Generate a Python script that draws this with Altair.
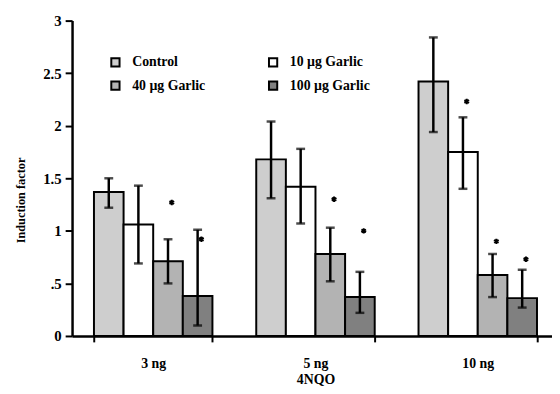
import altair as alt
import pandas as pd

doses = ["3 ng", "5 ng", "10 ng"]
treatments = ["Control", "10 µg Garlic", "40 µg Garlic", "100 µg Garlic"]
colors = ["#cecece", "#ffffff", "#b3b3b3", "#808080"]
# legend is filled column by column: Control, 40 | 10, 100
legend_order = ["Control", "40 µg Garlic", "10 µg Garlic", "100 µg Garlic"]
legend_colors = ["#cecece", "#b3b3b3", "#ffffff", "#808080"]
legend_labels = ["Control", "\u00a040 µg Garlic", "\u00a010 µg Garlic", "100 µg Garlic"]

# induction factor per dose, per treatment (Control, 10, 40, 100 µg)
values = {
    "3 ng": [1.37, 1.06, 0.71, 0.38],
    "5 ng": [1.68, 1.42, 0.78, 0.37],
    "10 ng": [2.42, 1.75, 0.58, 0.36],
}
err_low = {
    "3 ng": [1.22, 0.69, 0.50, 0.10],
    "5 ng": [1.31, 1.07, 0.52, 0.22],
    "10 ng": [1.94, 1.40, 0.37, 0.27],
}
err_high = {
    "3 ng": [1.50, 1.43, 0.92, 1.01],
    "5 ng": [2.04, 1.78, 1.03, 0.61],
    "10 ng": [2.84, 2.08, 0.78, 0.63],
}
# significance stars: (dose, treatment, height)
stars_dose = ["3 ng", "3 ng", "5 ng", "5 ng", "10 ng", "10 ng", "10 ng"]
stars_treat = ["40 µg Garlic", "100 µg Garlic", "40 µg Garlic", "100 µg Garlic",
               "10 µg Garlic", "40 µg Garlic", "100 µg Garlic"]
stars_y = [1.27, 0.92, 1.30, 1.00, 2.23, 0.90, 0.73]

rows = []
for d in doses:
    for i, t in enumerate(treatments):
        rows.append({"dose": d, "treatment": t, "value": values[d][i],
                     "lo": err_low[d][i], "hi": err_high[d][i]})
df = pd.DataFrame(rows)
sdf = pd.DataFrame({"dose": stars_dose, "treatment": stars_treat, "y": stars_y})

FONT = "Liberation Serif, Times New Roman, serif"

x_enc = alt.X("dose:N", sort=doses,
              scale=alt.Scale(range=[0, 494], paddingInner=0.27, paddingOuter=0.135),
              axis=alt.Axis(title="4NQO", labelAngle=0, tickBand="extent",
                            titleX=247, titleY=44, titleBaseline="middle"))
xo_enc = alt.XOffset("treatment:N", sort=treatments,
                     scale=alt.Scale(paddingInner=0, paddingOuter=0))

label_map = " ".join(
    f"datum.label == '{t}' ? '{l}' :" for t, l in zip(legend_order, legend_labels)
) + " datum.label"

bars = alt.Chart(df).mark_bar(stroke="black", strokeWidth=2).encode(
    x=x_enc,
    xOffset=xo_enc,
    y=alt.Y("value:Q", scale=alt.Scale(domain=[0, 3], nice=False),
            axis=alt.Axis(title="Induction factor", values=[0, 0.5, 1, 1.5, 2, 2.5, 3],
                          labelExpr="datum.value == 0.5 ? '.5' : format(datum.value, '~g')",
                          grid=False, titleX=-52, titleY=182, titleBaseline="middle")),
    fill=alt.Fill("treatment:N", sort=legend_order,
                  scale=alt.Scale(domain=legend_order, range=legend_colors),
                  legend=alt.Legend(title=None, orient="none", legendX=37, legendY=35,
                                    columns=2, columnPadding=59, rowPadding=6,
                                    symbolType="square", symbolSize=70,
                                    symbolStrokeColor="black", symbolStrokeWidth=2,
                                    labelFont=FONT, labelFontSize=14,
                                    labelFontWeight="bold", labelOffset=10,
                                    labelColor="black",
                                    labelExpr=label_map, padding=0)),
)

rules = alt.Chart(df).mark_rule(color="black", strokeWidth=2.5).encode(
    x=x_enc, xOffset=xo_enc, y="lo:Q", y2="hi:Q")
cap_lo = alt.Chart(df).mark_tick(color="black", thickness=2.5, size=9).encode(
    x=x_enc, xOffset=xo_enc, y="lo:Q")
cap_hi = alt.Chart(df).mark_tick(color="black", thickness=2.5, size=9).encode(
    x=x_enc, xOffset=xo_enc, y="hi:Q")

# asterisk glyph drawn as a symbol, shifted a little to the right of the bar centre
ASTERISK = "M1.4,-1L1.4,1M0.53,-0.5L2.27,0.5M0.53,0.5L2.27,-0.5"
stars = alt.Chart(sdf).mark_point(shape=ASTERISK, size=30, stroke="black",
                                  strokeWidth=2, filled=False, opacity=1).encode(
    x=x_enc, xOffset=xo_enc, y="y:Q")

chart = alt.layer(bars, rules, cap_lo, cap_hi, stars).properties(
    width=487, height=320,
    autosize=alt.AutoSizeParams(type="none"),
    padding={"left": 65, "top": 10, "right": 0, "bottom": 50},
).configure_view(stroke=None).configure_axis(
    domainColor="black", domainWidth=2.5, tickColor="black", tickWidth=2, tickSize=6,
    labelFont=FONT, labelFontWeight="bold", labelColor="black",
    titleFont=FONT, titleFontWeight="bold", titleColor="black",
).configure_axisY(labelFontSize=15, titleFontSize=12.5, labelPadding=4, tickSize=7
).configure_axisX(labelFontSize=14, titleFontSize=14, labelPadding=15)

chart.save("out.html", embed_options={"renderer": "svg", "actions": False})
